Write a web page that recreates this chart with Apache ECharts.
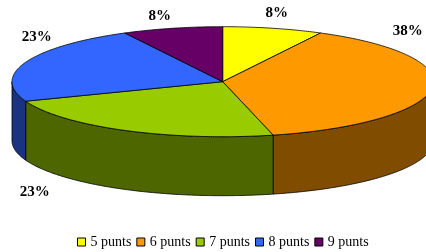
<!DOCTYPE html>
<html>
<head>
<meta charset="utf-8">
<script src="https://cdn.jsdelivr.net/npm/echarts@6/dist/echarts.min.js"></script>
<style>html,body{margin:0;padding:0;background:#fff}#chart{width:426px;height:252px}</style>
</head>
<body>
<div id="chart"></div>
<script>
var categories = ['5 punts', '6 punts', '7 punts', '8 punts', '9 punts'];
var counts = [1, 5, 3, 3, 1];
var topColors = ['#FFFF00', '#FF9900', '#99CC00', '#3366FF', '#660066'];
var sideColors = ['#808000', '#804C00', '#4D6600', '#1A3380', '#330033'];
// where Excel put each percentage label, relative to the pie centre
var labelOffsets = [[54, -69], [185, -51], [-188, 110], [-186, -45], [-63, -66]];

// tilted pie geometry
var cx = 222.7, cy = 81.7, rx = 210.7, ry = 55, depth = 59;
var total = counts.reduce(function (a, b) { return a + b; }, 0);

// angle a is measured clockwise from 12 o'clock
function arc(a0, a1, dy) {
    var n = Math.max(2, Math.ceil(Math.abs(a1 - a0) / 0.01));
    var pts = [];
    for (var k = 0; k <= n; k++) {
        var a = a0 + (a1 - a0) * k / n;
        pts.push([cx + rx * Math.sin(a), cy - ry * Math.cos(a) + dy]);
    }
    return pts;
}

function makeRender(idx) {
    return function (params, api) {
        var before = 0;
        for (var i = 0; i < idx; i++) before += counts[i];
        var v = api.value(0);
        var a0 = before / total * Math.PI * 2;
        var a1 = (before + v) / total * Math.PI * 2;
        var children = [];
        // front wall, only the part facing the viewer
        var s0 = Math.max(a0, Math.PI / 2), s1 = Math.min(a1, Math.PI * 1.5);
        if (s1 > s0) {
            children.push({
                type: 'polygon',
                shape: { points: arc(s0, s1, 0).concat(arc(s1, s0, depth)) },
                style: { fill: sideColors[idx], stroke: '#000', lineWidth: 0.8 }
            });
        }
        children.push({
            type: 'polygon',
            shape: { points: [[cx, cy]].concat(arc(a0, a1, 0)) },
            style: { fill: topColors[idx], stroke: '#000', lineWidth: 0.8, lineJoin: 'round' }
        });
        children.push({
            type: 'text',
            x: cx + labelOffsets[idx][0],
            y: cy + labelOffsets[idx][1],
            style: {
                text: Math.round(v / total * 100) + '%',
                fontFamily: 'Liberation Serif',
                fontWeight: 'bold',
                fontSize: 15,
                fill: '#000',
                align: 'center',
                verticalAlign: 'middle'
            }
        });
        return { type: 'group', children: children };
    };
}

var myChart = echarts.init(document.getElementById('chart'));
var option = {
    animation: false,
    color: topColors,
    legend: {
        data: categories,
        top: 230,
        left: 72,
        icon: 'rect',
        itemWidth: 8,
        itemHeight: 8,
        itemGap: 5,
        selectedMode: false,
        itemStyle: { borderColor: '#000', borderWidth: 1 },
        textStyle: { fontFamily: 'Liberation Serif', fontSize: 14, color: '#000' }
    },
    series: categories.map(function (name, i) {
        return {
            type: 'custom',
            name: name,
            coordinateSystem: 'none',
            silent: true,
            renderItem: makeRender(i),
            itemStyle: { color: topColors[i] },
            data: [counts[i]]
        };
    })
};
myChart.setOption(option);
</script>
</body>
</html>
